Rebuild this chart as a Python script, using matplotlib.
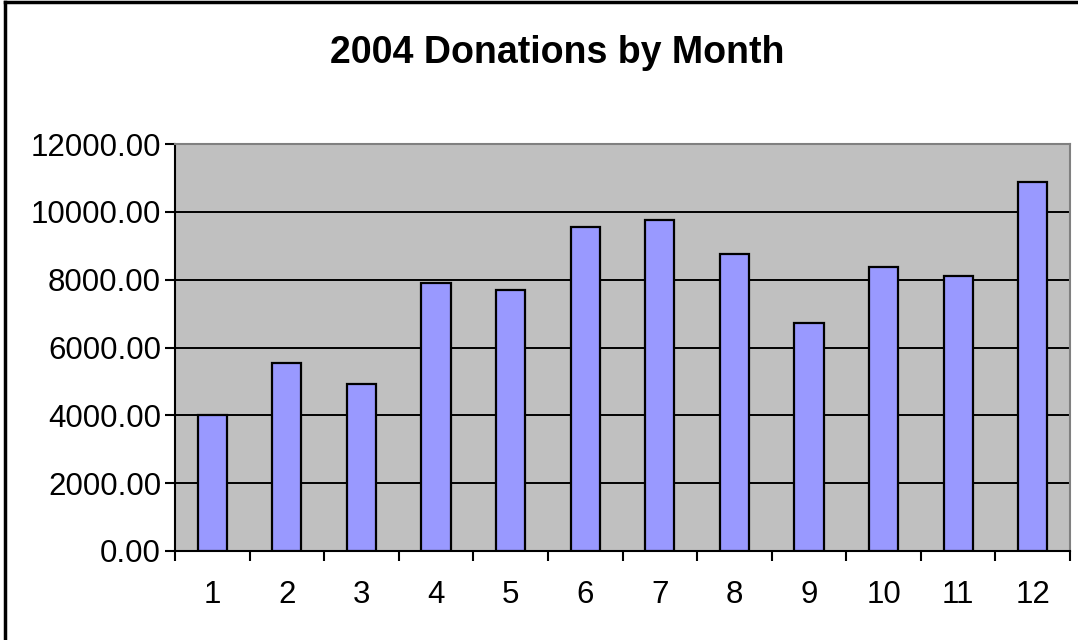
import numpy as np
import matplotlib
matplotlib.use("Agg")
import matplotlib.pyplot as plt
from matplotlib.lines import Line2D

plt.rcParams['font.family'] = ['Liberation Sans', 'DejaVu Sans']

months = [1, 2, 3, 4, 5, 6, 7, 8, 9, 10, 11, 12]
donations = [4000, 5530, 4930, 7900, 7700, 9560, 9760, 8770, 6730, 8380, 8110, 10880]
yticks = [0, 2000, 4000, 6000, 8000, 10000, 12000]

fig = plt.figure(figsize=(10.78, 6.4), dpi=100)
ax = fig.add_axes([175 / 1078, 1 - 551 / 640, 895 / 1078, 407 / 640])
ax.set_facecolor('#c0c0c0')

x = np.array(months)
ax.bar(x, donations, width=0.39, color='#9999ff', edgecolor='black', linewidth=1.6, zorder=3)

ax.set_xlim(0.5, 12.5)
ax.set_ylim(0, 12000)
ax.set_yticks(yticks)
ax.set_yticklabels(['%.2f' % v for v in yticks], fontsize=22.5)
ax.yaxis.grid(True, color='black', linewidth=1.4, zorder=1)
ax.set_axisbelow(True)

ax.set_xticks(x)
ax.set_xticklabels([str(m) for m in months], fontsize=22.5)
ax.set_xticks(np.arange(0.5, 13, 1), minor=True)
ax.tick_params(axis='x', which='major', length=0, pad=21)
ax.tick_params(axis='x', which='minor', length=7, width=1.5, direction='out')
ax.tick_params(axis='y', length=7, width=1.5, direction='out', pad=3)

ax.spines['left'].set_color('black')
ax.spines['left'].set_linewidth(1.5)
ax.spines['bottom'].set_color('black')
ax.spines['bottom'].set_linewidth(1.5)
ax.spines['top'].set_color('#808080')
ax.spines['top'].set_linewidth(1.5)
ax.spines['right'].set_color('#808080')
ax.spines['right'].set_linewidth(1.5)

fig.text(557 / 1078, 1 - 53 / 640, '2004 Donations by Month', fontsize=27,
         fontweight='bold', ha='center', va='center')

# outer frame (left and top only visible)
fig.add_artist(Line2D([4.5 / 1078, 4.5 / 1078], [0, 1 - 2 / 640], color='black', linewidth=2.5))
fig.add_artist(Line2D([4.5 / 1078, 1], [1 - 2 / 640, 1 - 2 / 640], color='black', linewidth=2.5))

fig.savefig('out.png', dpi=100)
